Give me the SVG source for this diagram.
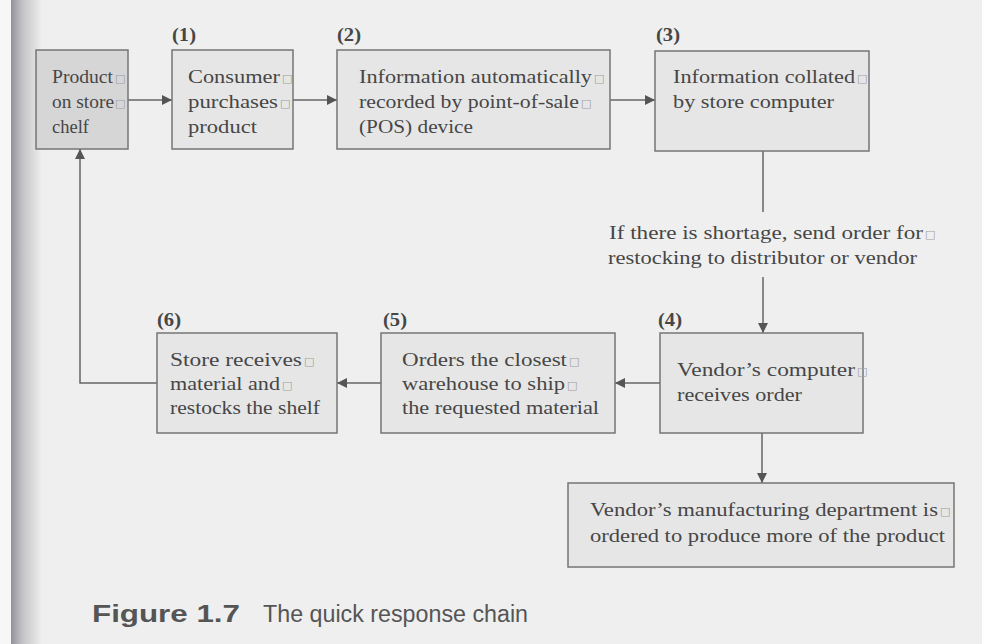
<svg xmlns="http://www.w3.org/2000/svg" width="982" height="644" viewBox="0 0 982 644">
<defs>
<linearGradient id="edge" x1="0" y1="0" x2="1" y2="0">
<stop offset="0" stop-color="#8e8e96"/>
<stop offset="0.4" stop-color="#c4c4c8"/>
<stop offset="1" stop-color="#efefef"/>
</linearGradient>
<marker id="ah" viewBox="0 0 10 10" refX="10" refY="5" markerWidth="10" markerHeight="10" markerUnits="userSpaceOnUse" orient="auto">
<path d="M0,0 L10,5 L0,10 z" fill="#555"/>
</marker>
<style>
.box{fill:#e6e6e6;stroke:#767676;stroke-width:1.5}
.dark{fill:#d6d6d6}
.t{font-family:"Liberation Serif","DejaVu Serif",serif;font-size:19.5px;fill:#464646}
.n{font-family:"Liberation Serif","DejaVu Serif",serif;font-size:18px;font-weight:bold;fill:#464646}
.sq{font-family:"DejaVu Sans",sans-serif;font-size:11px;fill:#a0a0a0}
.c{fill:none;stroke:#666;stroke-width:1.5}
.cap{font-family:"Liberation Sans",Arial,sans-serif;font-size:23.5px;fill:#555}
</style>
</defs>
<rect x="0" y="0" width="982" height="644" fill="#efefef"/>
<rect x="10" y="0" width="32" height="644" fill="url(#edge)"/>
<rect x="0" y="0" width="11" height="644" fill="#f7f7f7"/>

<g id="connectors">
<line class="c" x1="128" y1="100" x2="172" y2="100" marker-end="url(#ah)"/>
<line class="c" x1="293" y1="100" x2="337" y2="100" marker-end="url(#ah)"/>
<line class="c" x1="610" y1="100" x2="655" y2="100" marker-end="url(#ah)"/>
<line class="c" x1="763" y1="151" x2="763" y2="212"/>
<line class="c" x1="763" y1="277" x2="763" y2="333" marker-end="url(#ah)"/>
<line class="c" x1="660" y1="383" x2="615" y2="383" marker-end="url(#ah)"/>
<line class="c" x1="381" y1="383" x2="337" y2="383" marker-end="url(#ah)"/>
<polyline class="c" points="157,383 80,383 80,149" marker-end="url(#ah)"/>
<line class="c" x1="762" y1="433" x2="762" y2="483" marker-end="url(#ah)"/>
</g>

<g id="node0">
<rect class="box dark" x="36" y="50" width="92" height="99"/>
<text class="t" x="52" y="83" textLength="61" lengthAdjust="spacingAndGlyphs">Product</text>
<text class="sq" x="115" y="82">□</text>
<text class="t" x="52" y="108" textLength="62" lengthAdjust="spacingAndGlyphs">on store</text>
<text class="sq" x="115" y="107">□</text>
<text class="t" x="52" y="133" textLength="37" lengthAdjust="spacingAndGlyphs">chelf</text>
</g>

<g id="node1">
<text class="n" x="172" y="41" textLength="24" lengthAdjust="spacingAndGlyphs">(1)</text>
<rect class="box" x="172" y="50" width="121" height="99"/>
<text class="t" x="188" y="83" textLength="92" lengthAdjust="spacingAndGlyphs">Consumer</text>
<text class="sq" x="282" y="82">□</text>
<text class="t" x="188" y="108" textLength="90" lengthAdjust="spacingAndGlyphs">purchases</text>
<text class="sq" x="280" y="107">□</text>
<text class="t" x="188" y="133" textLength="69" lengthAdjust="spacingAndGlyphs">product</text>
</g>

<g id="node2">
<text class="n" x="337" y="41" textLength="24" lengthAdjust="spacingAndGlyphs">(2)</text>
<rect class="box" x="337" y="50" width="273" height="99"/>
<text class="t" x="359" y="83" textLength="233" lengthAdjust="spacingAndGlyphs">Information automatically</text>
<text class="sq" x="594" y="82">□</text>
<text class="t" x="359" y="108" textLength="220" lengthAdjust="spacingAndGlyphs">recorded by point-of-sale</text>
<text class="sq" x="581" y="107">□</text>
<text class="t" x="359" y="133" textLength="114" lengthAdjust="spacingAndGlyphs">(POS) device</text>
</g>

<g id="node3">
<text class="n" x="656" y="41" textLength="24" lengthAdjust="spacingAndGlyphs">(3)</text>
<rect class="box" x="655" y="51" width="214" height="100"/>
<text class="t" x="673" y="83" textLength="182" lengthAdjust="spacingAndGlyphs">Information collated</text>
<text class="sq" x="857" y="82">□</text>
<text class="t" x="673" y="108" textLength="161" lengthAdjust="spacingAndGlyphs">by store computer</text>
</g>

<g id="label-shortage">
<text class="t" x="609" y="239" textLength="314" lengthAdjust="spacingAndGlyphs">If there is shortage, send order for</text>
<text class="sq" x="925" y="238">□</text>
<text class="t" x="608" y="264" textLength="309" lengthAdjust="spacingAndGlyphs">restocking to distributor or vendor</text>
</g>

<g id="node4">
<text class="n" x="658" y="326" textLength="24" lengthAdjust="spacingAndGlyphs">(4)</text>
<rect class="box" x="660" y="333" width="203" height="100"/>
<text class="t" x="677" y="376" textLength="178" lengthAdjust="spacingAndGlyphs">Vendor’s computer</text>
<text class="sq" x="857" y="375">□</text>
<text class="t" x="677" y="401" textLength="125" lengthAdjust="spacingAndGlyphs">receives order</text>
</g>

<g id="node5">
<text class="n" x="383" y="326" textLength="24" lengthAdjust="spacingAndGlyphs">(5)</text>
<rect class="box" x="381" y="333" width="234" height="100"/>
<text class="t" x="402" y="366" textLength="165" lengthAdjust="spacingAndGlyphs">Orders the closest</text>
<text class="sq" x="569" y="365">□</text>
<text class="t" x="402" y="390" textLength="163" lengthAdjust="spacingAndGlyphs">warehouse to ship</text>
<text class="sq" x="567" y="389">□</text>
<text class="t" x="402" y="414" textLength="197" lengthAdjust="spacingAndGlyphs">the requested material</text>
</g>

<g id="node6">
<text class="n" x="157" y="326" textLength="24" lengthAdjust="spacingAndGlyphs">(6)</text>
<rect class="box" x="157" y="333" width="180" height="100"/>
<text class="t" x="170" y="366" textLength="132" lengthAdjust="spacingAndGlyphs">Store receives</text>
<text class="sq" x="304" y="365">□</text>
<text class="t" x="170" y="390" textLength="110" lengthAdjust="spacingAndGlyphs">material and</text>
<text class="sq" x="282" y="389">□</text>
<text class="t" x="170" y="414" textLength="150" lengthAdjust="spacingAndGlyphs">restocks the shelf</text>
</g>

<g id="node7">
<rect class="box" x="568" y="483" width="386" height="84"/>
<text class="t" x="590" y="516" textLength="348" lengthAdjust="spacingAndGlyphs">Vendor’s manufacturing department is</text>
<text class="sq" x="940" y="515">□</text>
<text class="t" x="590" y="542" textLength="355" lengthAdjust="spacingAndGlyphs">ordered to produce more of the product</text>
</g>

<g id="caption">
<text class="cap" x="92" y="622" font-weight="bold" textLength="148" lengthAdjust="spacingAndGlyphs">Figure 1.7</text>
<text class="cap" x="263" y="622" textLength="265" lengthAdjust="spacingAndGlyphs">The quick response chain</text>
</g>
</svg>
